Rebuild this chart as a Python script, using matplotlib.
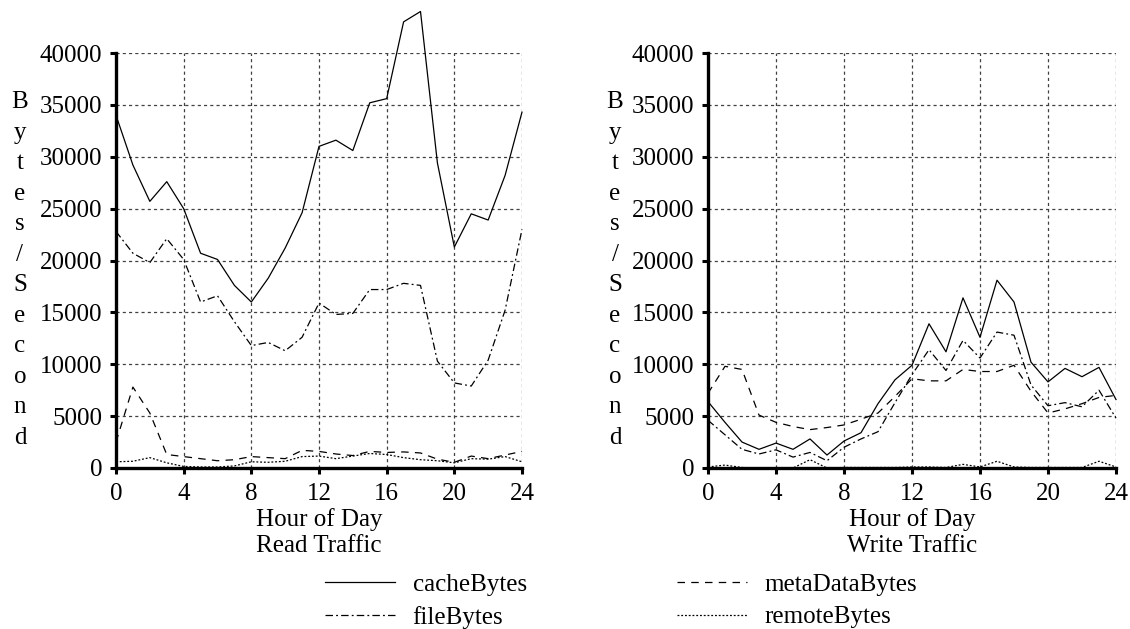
import numpy as np
import matplotlib.pyplot as plt

plt.rcParams["font.family"] = ["Liberation Serif", "DejaVu Serif"]
plt.rcParams["font.size"] = 18

hours = np.arange(0, 25)

read_cache = [34000, 29200, 25700, 27600, 25000, 20700, 20100, 17600, 16000, 18300,
              21200, 24600, 31000, 31600, 30600, 35200, 35600, 43000, 44000, 29400,
              21300, 24500, 23900, 28200, 34300]
read_file = [22800, 20700, 19800, 22100, 20100, 16000, 16600, 14100, 11800, 12100,
             11300, 12600, 15900, 14800, 14900, 17200, 17200, 17800, 17600, 10300,
             8200, 7900, 10400, 15200, 23000]
read_meta = [2500, 7800, 5300, 1300, 1100, 900, 700, 800, 1100, 1000,
             900, 1700, 1600, 1350, 1200, 1600, 1500, 1550, 1450, 850,
             550, 1150, 900, 1250, 1600]
read_remote = [600, 650, 1000, 500, 150, 100, 100, 200, 600, 550,
               650, 1100, 1150, 900, 1150, 1400, 1300, 1000, 800, 700,
               500, 900, 850, 1100, 600]

write_cache = [6400, 4400, 2500, 1800, 2400, 1800, 2800, 1250, 2600, 3400,
               6200, 8500, 9900, 13900, 11200, 16400, 12600, 18100, 16000, 10200,
               8300, 9600, 8800, 9700, 6600]
write_file = [4600, 3200, 1800, 1350, 1750, 1050, 1500, 700, 2000, 2800,
              3500, 6300, 9000, 11400, 9400, 12300, 10600, 13100, 12800, 8000,
              6000, 6300, 5900, 7500, 4800]
write_meta = [7200, 9800, 9500, 5100, 4400, 4000, 3700, 3900, 4150, 4700,
              5300, 6900, 8600, 8400, 8400, 9500, 9300, 9300, 9900, 7400,
              5300, 5700, 6200, 6800, 7000]
write_remote = [100, 280, 50, 0, 0, 0, 800, 0, 50, 50,
                50, 50, 100, 100, 50, 350, 100, 650, 100, 50,
                50, 50, 50, 650, 100]

names = ["cacheBytes", "fileBytes", "metaDataBytes", "remoteBytes"]
styles = ["-", (0, (6, 2.5, 1.5, 2.5)), (0, (6, 5)), (0, (1.5, 1.5))]

fig = plt.figure(figsize=(11.3, 6.29), dpi=100)
W, H = 1130, 629


def make_axes(x0, x1, series, title, ylab_x):
    ax = fig.add_axes([x0 / W, 1 - 468 / H, (x1 - x0) / W, (468 - 53) / H])
    handles = []
    for vals, ls, name in zip(series, styles, names):
        h, = ax.plot(hours, vals, color="black", lw=0.9, linestyle=ls,
                     clip_on=False, label=name)
        handles.append(h)
    ax.set_xlim(0, 24)
    ax.set_ylim(0, 40000)
    ax.set_xticks(range(0, 25, 4))
    ax.set_yticks(range(0, 40001, 5000))
    for s in ["top", "right"]:
        ax.spines[s].set_visible(False)
    for s in ["left", "bottom"]:
        ax.spines[s].set_linewidth(2.4)
    ax.tick_params(direction="out", length=4, width=2.2, pad=6)
    ax.tick_params(axis="x", pad=7)
    ax.grid(True, color="0.25", lw=0.9, linestyle=(0, (2.5, 2.5)))
    ax.set_axisbelow(True)
    ax.set_xlabel("Hour of Day\n" + title, linespacing=1.22, labelpad=2)
    fig.text(ylab_x / W, 1 - 270 / H, "\n".join("Bytes/Second"),
             ha="center", va="center", linespacing=1.5)
    return handles


handles = make_axes(116, 522, [read_cache, read_file, read_meta, read_remote],
                    "Read Traffic", 20)
make_axes(708, 1116, [write_cache, write_file, write_meta, write_remote],
          "Write Traffic", 615)

fig.legend(handles=handles, ncol=2, loc="upper left", frameon=False,
           bbox_to_anchor=(325 / W, 1 - 573 / H), borderpad=0, borderaxespad=0,
           handlelength=2.8, handletextpad=0.7, columnspacing=6.0,
           labelspacing=0.42)

fig.savefig("out.png", dpi=100)
